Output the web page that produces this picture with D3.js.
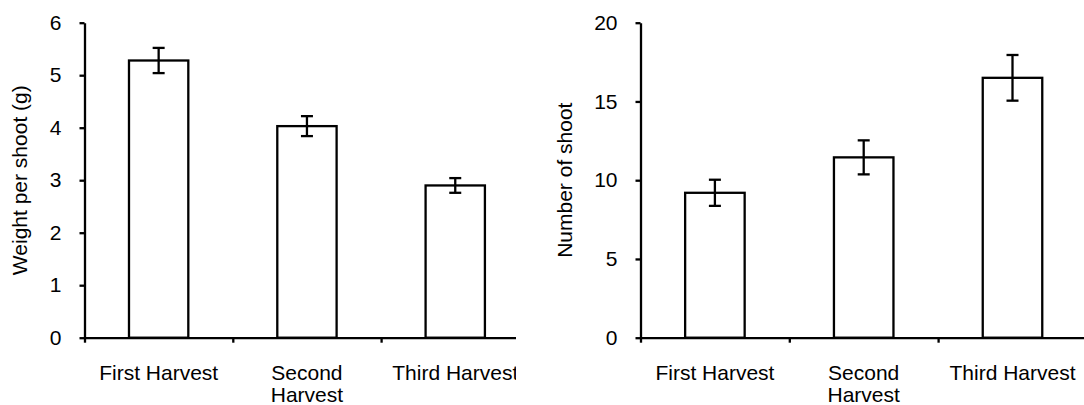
<!DOCTYPE html>
<html>
<head>
<meta charset="utf-8">
<script src="https://cdn.jsdelivr.net/npm/d3@7"></script>
<style>
  html, body { margin: 0; padding: 0; background: #fff; }
  svg { display: block; }
  text { font-family: "Liberation Sans", Arial, sans-serif; font-size: 21px; fill: #000; }
</style>
</head>
<body>
<svg id="chart" width="1084" height="405"></svg>
<script>
// ---- Data ----
const categories = ["First Harvest", "Second Harvest", "Third Harvest"];
const weightValues = [5.28, 4.03, 2.90];
const weightErrors = [0.24, 0.19, 0.14];
const weightTicks = [0, 1, 2, 3, 4, 5, 6];
const shootValues = [9.2, 11.45, 16.5];
const shootErrors = [0.83, 1.08, 1.45];
const shootTicks = [0, 5, 10, 15, 20];

const svg = d3.select("#chart");

function drawChart(opts) {
  const g = svg.append("g");
  if (opts.clipRight) {
    const id = "clip" + Math.round(opts.x0);
    svg.append("clipPath").attr("id", id)
      .append("rect").attr("x", 0).attr("y", 0).attr("width", opts.clipRight).attr("height", 405);
    g.attr("clip-path", `url(#${id})`);
  }
  const yTop = 22.7, yBottom = 337.7;
  const step = opts.step;
  const xEnd = opts.x0 + step * categories.length;

  const y = d3.scaleLinear().domain([0, d3.max(opts.ticks)]).range([yBottom, yTop]);
  const x = d3.scaleBand().domain(categories).range([opts.x0, xEnd]).paddingInner(0.6).paddingOuter(0.3);
  const xb = d3.scaleLinear().domain([0, categories.length]).range([opts.x0, xEnd]);

  // Bars
  g.selectAll("rect.bar").data(opts.values).join("rect")
    .attr("class", "bar")
    .attr("x", (d, i) => x(categories[i]))
    .attr("width", x.bandwidth())
    .attr("y", d => y(d))
    .attr("height", d => y(0) - y(d))
    .attr("fill", "#fff").attr("stroke", "#000").attr("stroke-width", 2.3);

  // Error bars
  const cap = 6;
  opts.values.forEach((v, i) => {
    const cx = x(categories[i]) + x.bandwidth() / 2;
    const e = opts.errors[i];
    g.append("line").attr("x1", cx).attr("x2", cx).attr("y1", y(v + e)).attr("y2", y(v - e))
      .attr("stroke", "#000").attr("stroke-width", 2.3);
    [v + e, v - e].forEach(t => {
      g.append("line").attr("x1", cx - cap).attr("x2", cx + cap).attr("y1", y(t)).attr("y2", y(t))
        .attr("stroke", "#000").attr("stroke-width", 2.3);
    });
  });

  // Y axis
  const yAxis = d3.axisLeft(y).tickValues(opts.ticks).tickSize(5).tickSizeOuter(0).tickPadding(18)
    .tickFormat(d3.format("d"));
  const ya = g.append("g").attr("transform", `translate(${opts.x0},0)`).call(yAxis);
  ya.select(".domain").attr("stroke", "#000").attr("stroke-width", 2.3);
  ya.selectAll(".tick line").attr("stroke", "#000").attr("stroke-width", 2.3);
  ya.selectAll("text").attr("font-size", 21).attr("font-family", "Liberation Sans, Arial, sans-serif");

  // X axis (ticks at category boundaries)
  const xAxis = d3.axisBottom(xb).tickValues(d3.range(categories.length + 1)).tickSize(5).tickSizeOuter(0)
    .tickFormat("");
  const xa = g.append("g").attr("transform", `translate(0,${yBottom})`).call(xAxis);
  xa.select(".domain").attr("stroke", "#000").attr("stroke-width", 2.3);
  xa.selectAll(".tick line").attr("stroke", "#000").attr("stroke-width", 2.3);

  // Category labels (wrap when wider than band)
  categories.forEach((c, i) => {
    const cx = x(c) + x.bandwidth() / 2;
    const t = g.append("text").attr("x", cx).attr("y", 380).attr("text-anchor", "middle");
    t.text(c);
    if (t.node().getComputedTextLength() > step - 2) {
      t.text(null);
      const words = c.split(" ");
      words.forEach((w, k) => {
        t.append("tspan").attr("x", cx).attr("dy", k === 0 ? 0 : 22).text(w);
      });
    }
  });

  // Y title
  g.append("text")
    .attr("transform", `translate(${opts.titleX},${(yTop + yBottom) / 2}) rotate(-90)`)
    .attr("text-anchor", "middle")
    .text(opts.title);
}

drawChart({ x0: 84.5, step: 148.3, values: weightValues, errors: weightErrors, ticks: weightTicks,
  title: "Weight per shoot (g)", titleX: 26.7, clipRight: 516 });
drawChart({ x0: 640.5, step: 148.8, values: shootValues, errors: shootErrors, ticks: shootTicks,
  title: "Number of shoot", titleX: 572 });
</script>
</body>
</html>
